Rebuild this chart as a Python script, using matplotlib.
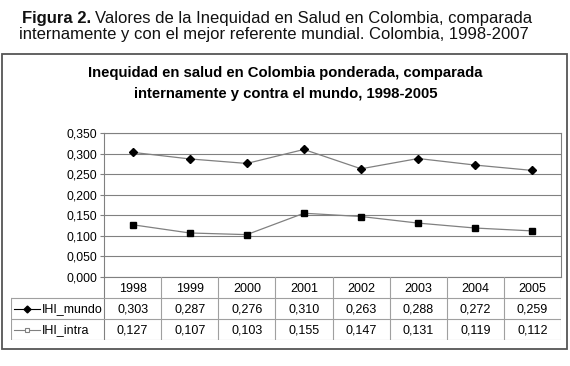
import matplotlib
matplotlib.use("Agg")
import matplotlib.pyplot as plt
from matplotlib.patches import Rectangle
from matplotlib.ticker import FuncFormatter

plt.rcParams['font.family'] = ['Liberation Sans', 'DejaVu Sans']

years = ["1998", "1999", "2000", "2001", "2002", "2003", "2004", "2005"]
ihi_mundo = [0.303, 0.287, 0.276, 0.310, 0.263, 0.288, 0.272, 0.259]
ihi_intra = [0.127, 0.107, 0.103, 0.155, 0.147, 0.131, 0.119, 0.112]
series_names = ["IHI_mundo", "IHI_intra"]
y_ticks = [0.0, 0.05, 0.10, 0.15, 0.20, 0.25, 0.30, 0.35]

W, H = 570, 366
fig = plt.figure(figsize=(W / 100, H / 100), dpi=100)

def fx(px):
    return px / W

def fy(py):
    return 1 - py / H

CAP = 12
# caption
fig.text(fx(22), fy(23.3), "Figura 2.", fontsize=CAP, fontweight="bold",
         ha="left", va="baseline", color="#111111")
fig.canvas.draw()
r = fig.canvas.get_renderer()
bb = fig.texts[0].get_window_extent(r)
fig.text(bb.x1 / W + fx(4), fy(23.3),
         "Valores de la Inequidad en Salud en Colombia, comparada",
         fontsize=CAP, ha="left", va="baseline", color="#111111")
fig.text(fx(19), fy(39.3),
         "internamente y con el mejor referente mundial. Colombia, 1998-2007",
         fontsize=CAP, ha="left", va="baseline", color="#111111")

# outer frame
fig.patches.append(Rectangle((fx(2), fy(349)), fx(565), 295 / H,
                             transform=fig.transFigure, fill=False,
                             edgecolor="#555555", linewidth=1.3))

# chart title
fig.text(fx(285), fy(77), "Inequidad en salud en Colombia ponderada, comparada",
         fontsize=10.7, fontweight="bold", ha="center", va="baseline")
fig.text(fx(286), fy(98), "internamente y contra el mundo, 1998-2005",
         fontsize=10.7, fontweight="bold", ha="center", va="baseline")

# plot axes
L, R, T, B = 104, 561, 133, 277
ax = fig.add_axes([fx(L), fy(B), (R - L) / W, (B - T) / H])
x = list(range(len(years)))
ax.plot(x, ihi_mundo, color="#808080", lw=0.9, marker="D", markersize=4,
        markerfacecolor="black", markeredgecolor="black", zorder=3)
ax.plot(x, ihi_intra, color="#808080", lw=0.9, marker="s", markersize=4,
        markerfacecolor="black", markeredgecolor="black", zorder=3)
ax.set_xlim(-0.5, len(years) - 0.5)
ax.set_ylim(0, 0.35)
ax.set_yticks(y_ticks)
ax.yaxis.set_major_formatter(FuncFormatter(lambda v, p: f"{v:.3f}".replace(".", ",")))
ax.set_xticks([])
ax.grid(axis="y", color="#808080", lw=0.8)
ax.set_axisbelow(True)
for s in ax.spines.values():
    s.set_color("#808080")
    s.set_linewidth(0.8)
ax.tick_params(axis="y", direction="out", length=3, width=0.8, color="#808080",
               labelsize=8.7, pad=2)

# data table
TL, TB = 11, 340
tab = fig.add_axes([fx(TL), fy(TB), (R - TL) / W, (TB - B) / H])
upp = (R - L) / len(years)
xl = -0.5 - (L - TL) / upp
tab.set_xlim(xl, len(years) - 0.5)
tab.set_ylim(3, 0)
tab.axis("off")
gc = "#a0a0a0"
for k in range(len(years) + 1):
    tab.plot([k - 0.5, k - 0.5], [0, 3], color=gc if k > 0 else "#808080", lw=0.8)
tab.plot([xl, xl], [1, 3], color=gc, lw=0.8)
for yy in (1, 2, 3):
    tab.plot([xl, len(years) - 0.5], [yy, yy], color=gc, lw=0.8)
FS = 9
for i, yr in enumerate(years):
    tab.text(i, 0.55, yr, ha="center", va="center", fontsize=FS)
    tab.text(i, 1.55, f"{ihi_mundo[i]:.3f}".replace(".", ","), ha="center",
             va="center", fontsize=FS)
    tab.text(i, 2.55, f"{ihi_intra[i]:.3f}".replace(".", ","), ha="center",
             va="center", fontsize=FS)

def px2d(px):
    return -0.5 + (px - L) / upp

tab.plot([px2d(14), px2d(40)], [1.5, 1.5], color="black", lw=0.8)
tab.plot([px2d(27)], [1.5], marker="D", markersize=3.5, color="black")
tab.plot([px2d(14), px2d(40)], [2.5, 2.5], color="#808080", lw=0.8)
tab.plot([px2d(27)], [2.5], marker="s", markersize=3.5, markerfacecolor="white",
         markeredgecolor="#808080", markeredgewidth=0.8)
tab.text(px2d(42), 1.55, series_names[0], ha="left", va="center", fontsize=FS)
tab.text(px2d(42), 2.55, series_names[1], ha="left", va="center", fontsize=FS)

fig.savefig("out.png", dpi=100)
